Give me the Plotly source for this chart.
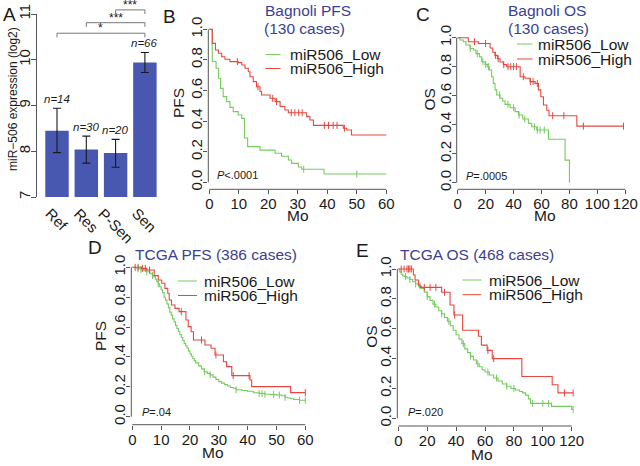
import plotly.graph_objects as go

W, H = 640, 466
FONT = "Liberation Sans, Arial, sans-serif"
GREEN = "#76cb5e"
RED = "#e4483e"
BLUE_T = "#3b4190"
BAR_C = "#4858b0"
AX_C = "#555555"
TXT = "#1a1a1a"

# ---------------- Panel A data ----------------
groups = ["Ref", "Res", "P-Sen", "Sen"]
expr_mean = [8.45, 8.04, 7.96, 9.94]
expr_upper = [8.94, 8.33, 8.26, 10.16]
expr_lower = [7.97, 7.74, 7.65, 9.72]
group_n = [14, 30, 20, 66]
sig_from = ["Ref", "Res", "P-Sen"]
sig_to = ["Sen", "Sen", "Sen"]
sig_text = ["*", "***", "***"]
sig_level = [10.58, 10.81, 11.09]
yticks_A = [7, 8, 9, 10, 11]

# ---------------- Panel B: Bagnoli PFS ----------------
B_low_t = [0, 1.0, 2.3, 3.1, 3.8, 4.7, 5.9, 7.0, 8.1, 9.8, 11.0, 11.9, 13.0, 17.2,
           22.3, 24.5, 26.8, 27.9, 30.2, 31.3, 38.9]
B_low_s = [1.0, 0.79, 0.745, 0.68, 0.614, 0.56, 0.527, 0.49, 0.462, 0.44, 0.418, 0.29,
           0.233, 0.21, 0.19, 0.17, 0.146, 0.124, 0.10, 0.085, 0.054]
B_low_end = 60
B_low_cens = [32, 50]
B_high_t = [0, 1.0, 2.1, 3.1, 4.2, 5.3, 7.0, 9.8, 11.0, 12.1, 13.2, 13.8, 14.9, 16.0,
            17.2, 17.7, 20.6, 22.3, 24.0, 25.6, 26.8, 33.0, 34.1, 35.3, 45.4, 46.6, 48.2]
B_high_s = [1.0, 0.908, 0.865, 0.843, 0.821, 0.804, 0.789, 0.782, 0.767, 0.745, 0.723,
            0.69, 0.658, 0.625, 0.593, 0.571, 0.549, 0.527, 0.495, 0.473, 0.455, 0.429,
            0.407, 0.372, 0.353, 0.342, 0.309]
B_high_end = 60
B_high_cens = [9.5, 16.5, 21.5, 22.8, 27.8, 29.0, 30.3, 31.5, 39.0, 40.4, 42.0, 43.3, 45.8]

# ---------------- Panel C: Bagnoli OS ----------------
C_low_t = [0, 1.6, 4.0, 5.9, 8.8, 11.2, 13.1, 15.5, 17.2, 19.6, 21.2, 22.7, 24.3, 25.5,
           26.7, 27.9, 30.3, 32.2, 33.9, 37.5, 41.1, 43.5, 46.6, 50.6, 53.0, 56.6, 65.0,
           76.9, 80.0]
C_low_s = [1.0, 0.984, 0.972, 0.95, 0.926, 0.915, 0.89, 0.869, 0.834, 0.816, 0.80, 0.777,
           0.731, 0.685, 0.64, 0.605, 0.582, 0.563, 0.54, 0.517, 0.49, 0.467, 0.439, 0.409,
           0.386, 0.363, 0.30, 0.156, 0.0]
C_low_end = 80.0
C_low_cens = [9, 14, 18, 20, 22, 30, 36, 40, 44, 48, 55, 57, 59, 62]
C_high_t = [0, 7.6, 14.8, 23.2, 25.1, 26.7, 28.4, 30.3, 32.7, 35.1, 44.7, 48.2, 51.8,
            55.4, 57.8, 59.5, 61.4, 63.8, 65.4, 85.3]
C_high_s = [1.0, 0.972, 0.96, 0.929, 0.90, 0.878, 0.855, 0.832, 0.814, 0.80, 0.731, 0.72,
            0.697, 0.685, 0.64, 0.593, 0.536, 0.50, 0.462, 0.39]
C_high_end = 118.7
C_high_cens = [12, 20, 27, 29, 33, 36, 38, 40, 42, 47, 52, 54, 57, 68, 76, 90, 118.7]

# ---------------- Panel D: TCGA PFS ----------------
D_low_t = [0, 1, 2, 3, 4, 5, 6, 6.5, 7, 7.5, 8, 8.5, 9, 9.5, 10, 10.5, 11, 11.5, 12, 12.5,
           13, 13.5, 14, 14.5, 15, 15.5, 16, 16.5, 17, 17.5, 18, 18.5, 19, 19.5, 20, 20.5,
           21, 21.5, 22, 23, 24, 25, 26, 27, 28, 29, 30, 31, 32, 33, 34, 35, 36, 38, 40,
           42, 44, 46, 48, 50, 52, 53, 54, 55, 56, 58]
D_low_s = [1.0, 0.995, 0.99, 0.985, 0.98, 0.97, 0.96, 0.955, 0.945, 0.935, 0.92, 0.905,
           0.89, 0.87, 0.85, 0.83, 0.80, 0.78, 0.755, 0.73, 0.70, 0.68, 0.655, 0.635, 0.61,
           0.59, 0.57, 0.55, 0.53, 0.51, 0.49, 0.475, 0.46, 0.44, 0.42, 0.405, 0.39, 0.375,
           0.36, 0.34, 0.32, 0.30, 0.29, 0.28, 0.265, 0.25, 0.235, 0.225, 0.215, 0.205,
           0.195, 0.19, 0.18, 0.175, 0.17, 0.16, 0.155, 0.15, 0.148, 0.145, 0.14, 0.13,
           0.125, 0.12, 0.115, 0.11]
D_low_end = 60
D_low_cens = [2, 3, 5, 7, 9, 25, 27, 36, 44, 45, 46, 49, 51, 53, 58, 60]
D_high_t = [0, 3.2, 5.0, 7.6, 9.0, 10.2, 11.3, 12.3, 12.8, 13.6, 14.8, 16.2, 18.6, 19.4,
            20.4, 21.2, 25.2, 27.3, 28.7, 31.6, 32.7, 34.5, 40.8, 41.4, 54.9]
D_high_s = [1.0, 0.993, 0.982, 0.944, 0.915, 0.893, 0.859, 0.826, 0.781, 0.748, 0.725,
            0.703, 0.647, 0.603, 0.569, 0.513, 0.48, 0.458, 0.413, 0.368, 0.335, 0.275,
            0.246, 0.201, 0.161]
D_high_end = 60
D_high_cens = [1, 2, 3.5, 4.5, 6, 17, 24, 29, 35, 40.5, 60]

# ---------------- Panel E: TCGA OS ----------------
E_low_t = [0, 1, 2, 3, 4, 6, 8, 10, 12, 14, 16, 18, 20, 22, 24, 26, 28, 30, 32, 34, 36,
           38, 40, 42, 44, 46, 48, 50, 52, 54, 56, 58, 60, 63, 66, 69, 72, 75, 78, 81, 84,
           86, 88, 90, 91.5, 106, 120]
E_low_s = [1.0, 0.98, 0.965, 0.955, 0.95, 0.94, 0.93, 0.915, 0.90, 0.885, 0.87, 0.845,
           0.815, 0.79, 0.765, 0.745, 0.72, 0.70, 0.675, 0.65, 0.62, 0.59, 0.56, 0.53,
           0.50, 0.465, 0.44, 0.415, 0.39, 0.365, 0.345, 0.325, 0.31, 0.29, 0.27, 0.25,
           0.23, 0.215, 0.20, 0.19, 0.18, 0.17, 0.155, 0.13, 0.10, 0.08, 0.06]
E_low_end = 121
E_low_cens = [5, 8, 12, 15, 20, 25, 30, 35, 45, 50, 55, 62, 68, 75, 80, 93, 100, 104, 121]
E_high_t = [0, 10.4, 11.6, 13.9, 15.0, 30.0, 35.8, 38.5, 44.5, 55.5, 57.5, 61.5, 65.0,
            85.5, 106.5, 110.5]
E_high_s = [1.0, 0.96, 0.926, 0.893, 0.877, 0.844, 0.759, 0.692, 0.59, 0.55, 0.49, 0.455,
            0.40, 0.28, 0.225, 0.17]
E_high_end = 121
E_high_cens = [2, 4, 6, 7, 8, 9, 18, 22, 26, 32, 39, 62, 66, 115, 121]


def px_x(p):
    return p / W


def px_y(p):
    return 1 - p / H


def lin_range(p0, v0, p1, v1, a, b):
    s = (p1 - p0) / (v1 - v0)
    return [v0 + (a - p0) / s, v0 + (b - p0) / s]


def surv_at(ts, ss, t):
    val = ss[0]
    for ti, si in zip(ts, ss):
        if ti <= t:
            val = si
    return val


def ptext(x, y, text, size, color=TXT, xanchor="center", angle=0):
    return dict(x=px_x(x), y=px_y(y), xref="paper", yref="paper", text=text,
                showarrow=False, xanchor=xanchor, yanchor="middle", textangle=angle,
                font=dict(family=FONT, size=size, color=color))


fig = go.Figure()
annotations = []
shapes = []

# ---------------- Panel A ----------------
fig.add_trace(go.Bar(
    x=groups, y=expr_mean, width=0.8, marker=dict(color=BAR_C, line=dict(width=0)),
    error_y=dict(type="data", symmetric=False,
                 array=[u - m for u, m in zip(expr_upper, expr_mean)],
                 arrayminus=[m - l for m, l in zip(expr_mean, expr_lower)],
                 color="#1a1a1a", thickness=1.1, width=4),
    xaxis="x", yaxis="y", showlegend=False, hoverinfo="skip"))

A_xL, A_xR = 36.5, 162
A_c0, A_step = 57.0, 29.3
A_yb, A_yt = 197.0, 2.5
A_p7, A_p11 = 197.0, 14.0
layout_axes = {}
layout_axes["xaxis"] = dict(domain=[px_x(A_xL), px_x(A_xR)], anchor="y", type="category",
                            range=[(A_xL - A_c0) / A_step, (A_xR - A_c0) / A_step],
                            showticklabels=False, ticks="", showline=False, automargin=False,
                            showgrid=False, zeroline=False)
layout_axes["yaxis"] = dict(domain=[px_y(A_yb), px_y(A_yt)], anchor="x", automargin=False,
                            range=lin_range(A_p7, 7, A_p11, 11, A_yb, A_yt),
                            tickvals=yticks_A, ticks="outside", ticklen=5, tickwidth=1,
                            tickcolor=AX_C, tickangle=-90, ticklabelstandoff=-5,
                            tickfont=dict(family=FONT, size=15, color=TXT),
                            showline=False, showgrid=False, zeroline=False)
shapes.append(dict(type="line", xref="x domain", x0=0, x1=0, yref="y",
                   y0=yticks_A[0], y1=yticks_A[-1], line=dict(color=AX_C, width=1)))
for i, g in enumerate(groups):
    annotations.append(dict(x=i, y=expr_upper[i], xref="x", yref="y", text="<i>n=%d</i>" % group_n[i],
                            showarrow=False, xanchor="center", yanchor="bottom", yshift=1,
                            font=dict(family=FONT, size=11.5, color=TXT)))
    annotations.append(dict(x=i, y=px_y(202), xref="x", yref="paper", text=g,
                            showarrow=False, textangle=45, xanchor="center", yanchor="top",
                            font=dict(family=FONT, size=15, color=TXT)))
for a, b, t, lv in zip(sig_from, sig_to, sig_text, sig_level):
    i, j = groups.index(a), groups.index(b)
    shapes.append(dict(type="path", xref="x", yref="y",
                       path="M %f,%f L %f,%f L %f,%f L %f,%f" % (i, lv - 0.09, i, lv, j, lv, j, lv - 0.09),
                       line=dict(color="#777777", width=1)))
    annotations.append(dict(x=(i + j) / 2, y=lv, xref="x", yref="y", text=t, showarrow=False,
                            xanchor="center", yanchor="bottom", yshift=-4,
                            font=dict(family=FONT, size=12, color=TXT)))
annotations.append(ptext(12.5, 99.5, "miR\u2212506 expression (log2)", 12, angle=-90))
annotations.append(ptext(9.5, 15, "A", 19))

# ---------------- KM panels ----------------
panels = [
    dict(n=2, letter="B", T=60, dt=10, x0=209.3, xT=386.3, L=208.3, R=390,
         y0=182.3, y1=29.3, bot=189.3, top=26,
         low=(B_low_t, B_low_s, B_low_end, B_low_cens),
         high=(B_high_t, B_high_s, B_high_end, B_high_cens),
         title=[("Bagnoli PFS", 263, 10.5), ("(130 cases)", 262, 28.5)],
         leg=(265.5, 280.5, 288.3, 54.5, 68.5), ylab="PFS", ylab_pos=(178, 103),
         xlab_pos=(298, 215), pv="<i>P</i>&lt;.0001", pv_pos=(215, 175),
         letter_pos=(169, 16)),
    dict(n=3, letter="C", T=120, dt=20, x0=457.7, xT=625.3, L=456.7, R=629,
         y0=182.7, y1=37.7, bot=189.3, top=34,
         low=(C_low_t, C_low_s, C_low_end, C_low_cens),
         high=(C_high_t, C_high_s, C_high_end, C_high_cens),
         title=[("Bagnoli OS", 505.7, 10.5), ("(130 cases)", 505.7, 28.5)],
         leg=(517, 532.5, 535.5, 44, 59), ylab="OS", ylab_pos=(428.5, 100),
         xlab_pos=(545, 215.5), pv="<i>P</i>=.0005", pv_pos=(464, 176),
         letter_pos=(422.5, 14.5)),
    dict(n=4, letter="D", T=60, dt=10, x0=132.3, xT=305.3, L=131.3, R=308,
         y0=416.7, y1=267.3, bot=424.7, top=264,
         low=(D_low_t, D_low_s, D_low_end, D_low_cens),
         high=(D_high_t, D_high_s, D_high_end, D_high_cens),
         title=[("TCGA PFS (386 cases)", 133.3, 254)],
         leg=(178, 197, 202, 281, 295.5), ylab="PFS", ylab_pos=(100, 336),
         xlab_pos=(213, 452.5), pv="<i>P</i>=.04", pv_pos=(140, 411.7),
         letter_pos=(94.5, 247)),
    dict(n=5, letter="E", T=120, dt=20, x0=398.3, xT=571.7, L=397.3, R=575,
         y0=418.3, y1=269, bot=426, top=266,
         low=(E_low_t, E_low_s, E_low_end, E_low_cens),
         high=(E_high_t, E_high_s, E_high_end, E_high_cens),
         title=[("TCGA OS (468 cases)", 398.3, 255)],
         leg=(462.5, 481.3, 486.7, 280, 294.7), ylab="OS", ylab_pos=(370.7, 337),
         xlab_pos=(481.7, 454), pv="<i>P</i>=.020", pv_pos=(406, 412.3),
         letter_pos=(362.5, 250.5)),
]

for p in panels:
    n = p["n"]
    xa, ya = "x%d" % n, "y%d" % n
    for (ts, ss, end, cens), col in ((p["low"], GREEN), (p["high"], RED)):
        fig.add_trace(go.Scatter(x=list(ts) + [end], y=list(ss) + [ss[-1]], mode="lines",
                                 line=dict(color=col, width=1.1, shape="hv"),
                                 xaxis=xa, yaxis=ya, showlegend=False, hoverinfo="skip"))
        fig.add_trace(go.Scatter(x=cens, y=[surv_at(ts, ss, c) for c in cens], mode="markers",
                                 marker=dict(symbol="line-ns", size=5, color=col,
                                             line=dict(color=col, width=1)),
                                 xaxis=xa, yaxis=ya, showlegend=False, hoverinfo="skip",
                                 cliponaxis=False))
    layout_axes["xaxis%d" % n] = dict(
        domain=[px_x(p["L"]), px_x(p["R"])], anchor=ya, automargin=False,
        range=lin_range(p["x0"], 0, p["xT"], p["T"], p["L"], p["R"]),
        tickvals=list(range(0, p["T"] + 1, p["dt"])), ticks="outside", ticklen=4,
        tickwidth=1, tickcolor=AX_C, ticklabelstandoff=-3,
        tickfont=dict(family=FONT, size=15, color=TXT),
        showline=False, showgrid=False, zeroline=False)
    layout_axes["yaxis%d" % n] = dict(
        domain=[px_y(p["bot"]), px_y(p["top"])], anchor=xa, automargin=False,
        range=lin_range(p["y0"], 0, p["y1"], 1, p["bot"], p["top"]),
        tickvals=[0, 0.2, 0.4, 0.6, 0.8, 1.0], tickformat=".1f", ticks="outside",
        ticklen=4, tickwidth=1, tickcolor=AX_C, tickangle=-90, ticklabelstandoff=-5,
        tickfont=dict(family=FONT, size=15, color=TXT),
        showline=False, showgrid=False, zeroline=False)
    shapes.append(dict(type="line", xref=xa, x0=0, x1=p["T"], yref=ya + " domain", y0=0, y1=0,
                       line=dict(color=AX_C, width=1)))
    shapes.append(dict(type="line", xref=xa + " domain", x0=0, x1=0, yref=ya, y0=0, y1=1,
                       line=dict(color=AX_C, width=1)))
    for txt, tx, ty in p["title"]:
        annotations.append(ptext(tx, ty, txt, 15.5, color=BLUE_T, xanchor="left"))
    lx0, lx1, ltx, ly1, ly2 = p["leg"]
    for lbl, col, ly in (("miR506_Low", GREEN, ly1), ("miR506_High", RED, ly2)):
        shapes.append(dict(type="line", xref="paper", yref="paper", x0=px_x(lx0), x1=px_x(lx1),
                           y0=px_y(ly), y1=px_y(ly), line=dict(color=col, width=1)))
        annotations.append(ptext(ltx, ly, lbl, 15.5, xanchor="left"))
    annotations.append(ptext(p["ylab_pos"][0], p["ylab_pos"][1], p["ylab"], 15.5, angle=-90))
    annotations.append(ptext(p["xlab_pos"][0], p["xlab_pos"][1], "Mo", 15.5))
    annotations.append(ptext(p["pv_pos"][0], p["pv_pos"][1], p["pv"], 11, xanchor="left"))
    annotations.append(ptext(p["letter_pos"][0], p["letter_pos"][1], p["letter"], 19))

fig.update_layout(width=W, height=H, margin=dict(l=0, r=0, t=0, b=0, pad=0),
                  autosize=False, template="none",
                  paper_bgcolor="white", plot_bgcolor="white",
                  font=dict(family=FONT, color=TXT), showlegend=False,
                  annotations=annotations, shapes=shapes, **layout_axes)
fig.write_html("out.html", config={"displayModeBar": False},
               post_script="document.body.style.margin='0';document.body.style.padding='0';")
